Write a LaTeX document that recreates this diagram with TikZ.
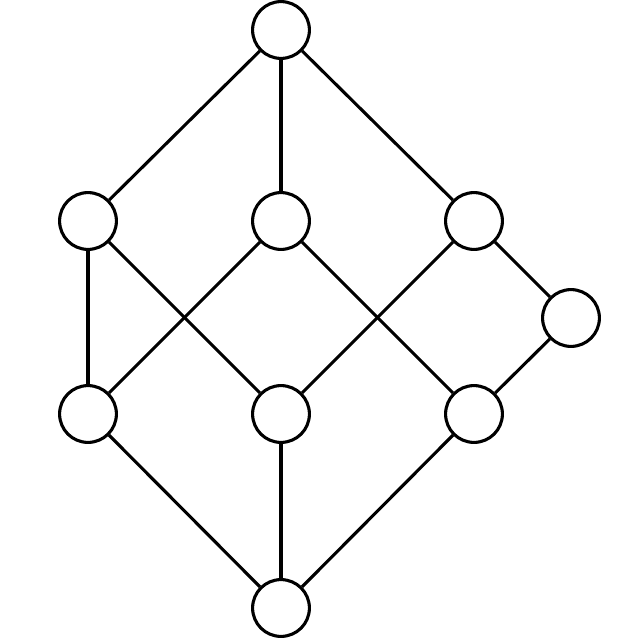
\documentclass[tikz,border=0pt]{standalone}
\begin{document}
\begin{tikzpicture}[x=0.025cm,y=-0.025cm,
  vtx/.style={circle,draw=black,fill=white,line width=2.2pt,minimum size=1.42cm,inner sep=0pt},
  edge/.style={draw=black,line width=2.2pt}]
\useasboundingbox[fill=white] (0,0) rectangle (640,640);
\node[vtx] (t) at (281,30) {};
\node[vtx] (a) at (88,221) {};
\node[vtx] (b) at (281,221) {};
\node[vtx] (c) at (474,221) {};
\node[vtx] (r) at (571,318) {};
\node[vtx] (d) at (88,414) {};
\node[vtx] (e) at (281,414) {};
\node[vtx] (f) at (474,414) {};
\node[vtx] (z) at (281,608) {};
\path[edge] (t) -- (a);
\path[edge] (t) -- (b);
\path[edge] (t) -- (c);
\path[edge] (a) -- (d);
\path[edge] (a) -- (e);
\path[edge] (b) -- (d);
\path[edge] (b) -- (f);
\path[edge] (c) -- (e);
\path[edge] (c) -- (r);
\path[edge] (r) -- (f);
\path[edge] (d) -- (z);
\path[edge] (e) -- (z);
\path[edge] (f) -- (z);
\end{tikzpicture}
\end{document}
